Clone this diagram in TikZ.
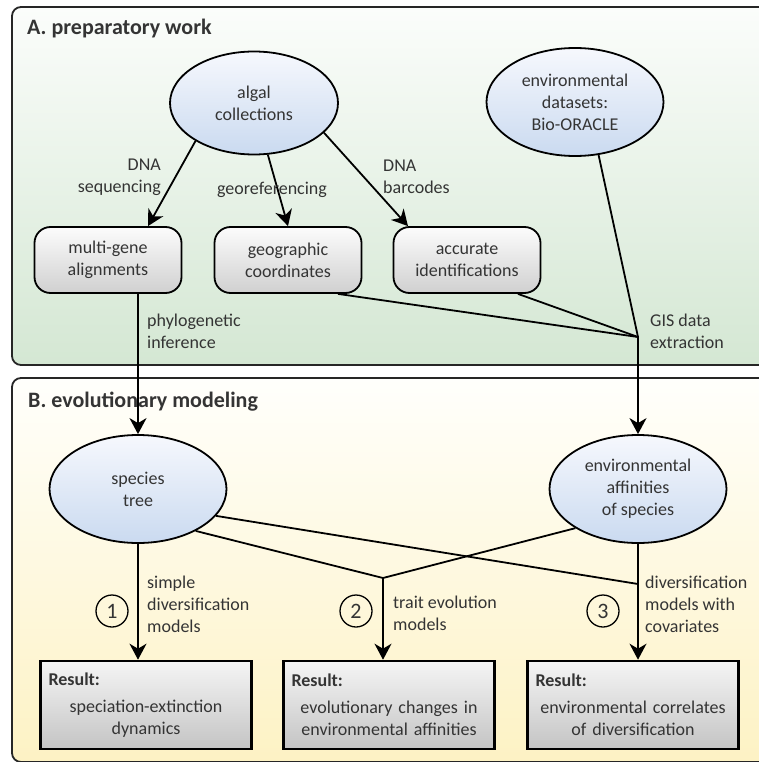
\documentclass[tikz,border=0pt]{standalone}
\usepackage{fontspec}
\setmainfont{Carlito}
\usetikzlibrary{shapes.geometric,arrows.meta}

\definecolor{txtgray}{RGB}{52,52,52}
\definecolor{greentop}{RGB}{251,253,251}
\definecolor{greenbot}{RGB}{212,231,211}
\definecolor{yellowtop}{RGB}{255,255,252}
\definecolor{yellowbot}{RGB}{253,242,196}
\definecolor{ovaltop}{RGB}{246,248,253}
\definecolor{ovalbot}{RGB}{202,218,240}
\definecolor{boxtop}{RGB}{252,252,252}
\definecolor{boxbot}{RGB}{208,208,208}
\definecolor{restop}{RGB}{245,245,245}
\definecolor{resbot}{RGB}{196,196,196}

\begin{document}
\begin{tikzpicture}[x=1pt,y=-1pt,
  every node/.style={text=txtgray,font=\fontsize{18}{22}\selectfont},
  panel/.style={draw=black!85,line width=1.8pt,rounded corners=9pt},
  oval/.style={ellipse,draw=black,line width=1.8pt,top color=ovaltop,bottom color=ovalbot,
    minimum width=177pt,minimum height=108pt,inner sep=0pt,align=center},
  rbox/.style={rectangle,rounded corners=16pt,draw=black,line width=1.8pt,top color=boxtop,
    bottom color=boxbot,minimum width=147pt,minimum height=66pt,inner sep=0pt,align=center},
  resbox/.style={rectangle,draw=black,line width=2.6pt,top color=restop,bottom color=resbot,
    minimum width=211pt,minimum height=88pt,text width=195pt,inner sep=0pt,align=center},
  arr/.style={line width=1.8pt,-{Stealth[length=16pt,width=17pt,inset=5pt]}},
  ln/.style={line width=1.8pt},
  num/.style={circle,draw=black,line width=1.3pt,minimum size=32pt,inner sep=0pt,
    font=\fontsize{22}{24}\selectfont},
  ttl/.style={font=\fontsize{22}{26}\selectfont\bfseries,anchor=base west,inner sep=0pt},
  lbl/.style={align=left,anchor=west,inner sep=0pt}
]
\clip (0,0) rectangle (759,762);

% panels
\draw[panel,top color=greentop,bottom color=greenbot] (12,7) rectangle (775,365);
\draw[panel,top color=yellowtop,bottom color=yellowbot] (12,378) rectangle (775,762);

\node[ttl] (titleA) at (27,35) {A. preparatory work};
\node[ttl] (titleB) at (28,407) {B. evolutionary modeling};

% A. preparatory work
\node[oval,minimum width=168pt,minimum height=103pt] (algal) at (254,103) {algal\\collections};
\node[oval] (bio) at (575,102) {environmental\\datasets:\\Bio-ORACLE};

\node[rbox] (align) at (108,260) {multi-gene\\alignments};
\node[rbox] (coords) at (288,260) {geographic\\coordinates};
\node[rbox] (ident) at (467,260) {accurate\\identifications};

\coordinate (gis) at (638,337);

\draw[arr] (algal.213) -- ([xshift=40pt]align.north);
\draw[arr] (algal.285) -- (coords.north);
\draw[arr] (algal.337) -- ([xshift=-59pt]ident.north);

\draw[ln] (bio.294) -- (gis);
\draw[ln] ([xshift=50pt]coords.south) -- (gis);
\draw[ln] ([xshift=51pt]ident.south) -- (gis);

\node[lbl,align=right,anchor=east] (seqlbl) at (161,177) {DNA\\sequencing};
\node[inner sep=0pt] (geolbl) at (272,190) {georeferencing};
\node[lbl] (barlbl) at (383,177) {DNA\\barcodes};
\node[lbl] (gislbl) at (650,331) {GIS data\\extraction};
\node[lbl] (phylbl) at (147,331) {phylogenetic\\inference};

% B. evolutionary modeling
\node[oval] (tree) at (138,489) {species\\tree};
\node[oval] (affin) at (638,489) {environmental\\affinities\\of species};

\node[resbox] (res1) at (146,705) {\textbf{Result:}\hfill\null\\[5pt]speciation-extinction\\dynamics};
\node[resbox] (res2) at (389,705) {\textbf{Result:}\hfill\null\\[5pt]evolutionary changes in\\environmental affinities};
\node[resbox] (res3) at (633,705) {\textbf{Result:}\hfill\null\\[5pt]environmental correlates\\of diversification};

\coordinate (join2) at (383,578);
\coordinate (join3) at (638,584);

\draw[arr] (align.south -| tree.north) -- (tree.north);
\draw[arr] (gis) -- (affin.north);

\draw[ln] (tree.341) -- (join3);
\draw[ln] (tree.324) -- (join2);
\draw[ln] (affin.212) -- (join2);

\draw[arr] (tree.south) -- (tree.south |- res1.north);
\draw[arr] (join2) -- (join2 |- res2.north);
\draw[arr] (affin.south) -- (affin.south |- res3.north);

\node[num] (one) at (112,611) {1};
\node[num] (two) at (356,611) {2};
\node[num] (three) at (603,611) {3};

\node[lbl] (simlbl) at (147,604) {simple\\diversification\\models};
\node[lbl] (trtlbl) at (393,613) {trait evolution\\models};
\node[lbl] (covlbl) at (645,604) {diversification\\models with\\covariates};

\end{tikzpicture}
\end{document}
